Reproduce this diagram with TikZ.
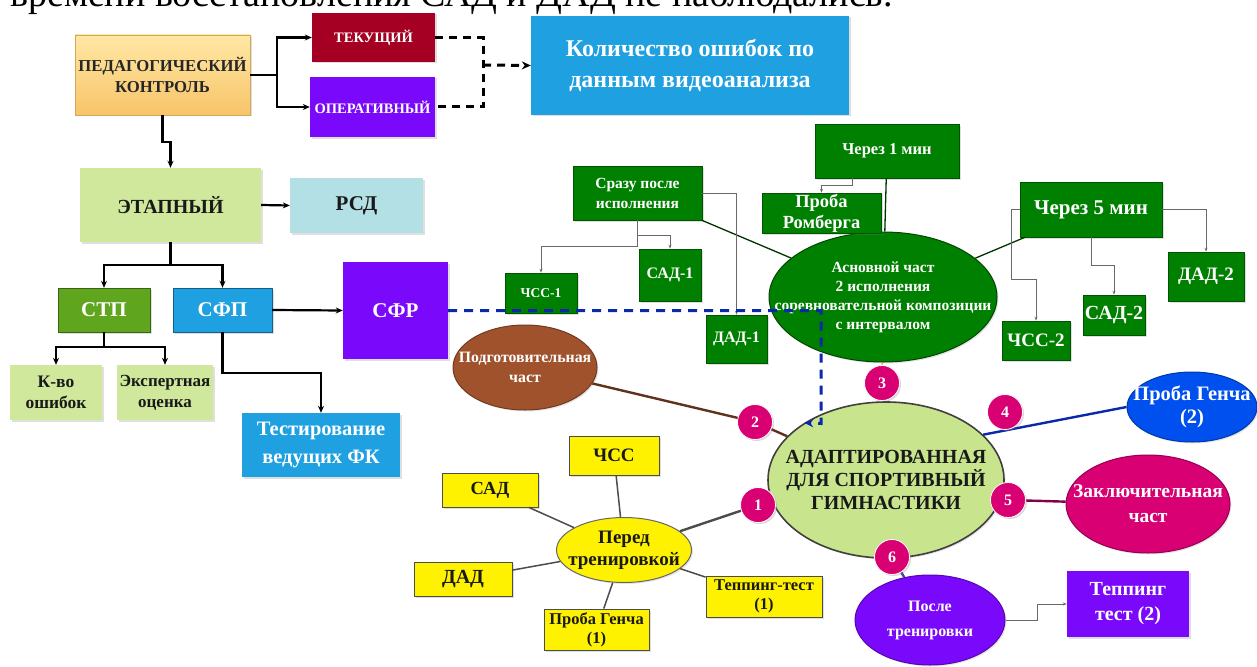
\documentclass[tikz,border=0pt]{standalone}
\usepackage{fontspec}
\setmainfont{Liberation Serif}
\usepackage{tikz}
\usetikzlibrary{arrows.meta,positioning,shapes.geometric,calc,shadows}
\definecolor{ctlyellow}{RGB}{255,232,165}
\definecolor{ctlorange}{RGB}{248,196,105}
\definecolor{curred}{RGB}{165,0,35}
\definecolor{opviolet}{RGB}{122,8,250}
\definecolor{infoblue}{RGB}{30,160,225}
\definecolor{palegreen}{RGB}{208,232,155}
\definecolor{palecyan}{RGB}{178,224,228}
\definecolor{grassgreen}{RGB}{96,165,30}
\definecolor{deepgreen}{RGB}{0,128,0}
\definecolor{rustbrown}{RGB}{160,82,45}
\definecolor{magentared}{RGB}{216,0,115}
\definecolor{royalblue}{RGB}{0,80,239}
\definecolor{limegreen}{RGB}{200,228,140}
\definecolor{linegray}{RGB}{105,105,105}
\definecolor{dashblue}{RGB}{10,40,170}
\newcommand{\fsz}[2]{\fontsize{#1}{#2}\selectfont\bfseries}

\begin{document}
\begin{tikzpicture}[x=1pt, y=-1pt,
  sqbox/.style = {
    rectangle, inner sep=1pt, align=center, text=white,
    drop shadow={opacity=0.25, shadow xshift=1.5pt, shadow yshift=-1.5pt}
  },
  litebox/.style = {sqbox, text=black!90},
  gbox/.style = {sqbox, fill=deepgreen, draw=deepgreen!65!black, line width=0.6pt},
  ybox/.style = {litebox, fill=yellow, draw=black!70, line width=0.8pt},
  oval/.style = {ellipse, inner sep=0pt, line width=1pt,
    drop shadow={opacity=0.2, shadow xshift=1.5pt, shadow yshift=-1.5pt}},
  olbl/.style = {align=center, text=white, inner sep=0pt},
  badge/.style = {
    circle, fill=magentared, draw=white, line width=0.8pt, minimum size=35pt,
    inner sep=0pt, text=white, font=\fsz{16}{18},
    drop shadow={opacity=0.3, shadow xshift=1.5pt, shadow yshift=-1.5pt}
  },
  arr/.style = {-{Stealth[length=7pt,width=6pt]}, line width=2.2pt},
  gconn/.style = {-{Stealth[length=4pt,width=3pt]}, line width=0.7pt, linegray},
  vidline/.style = {line width=3pt, dash pattern=on 8pt off 6pt},
  bluedash/.style = {line width=3pt, dashblue, dash pattern=on 9pt off 7pt},
  spoke/.style = {line width=2.4pt},
  yspoke/.style = {line width=1.5pt, black!70}
]
  \useasboundingbox (0,0) rectangle (1257,666);
  \clip (0,0) rectangle (1257,666);
  \node[anchor=base west, inner sep=0pt, font=\fontsize{38}{40}\selectfont] (caption) at (10,7) {времени восстановления САД и ДАД не наблюдались.};

  % control branch
  \node[sqbox, text=black!85, top color=ctlyellow, bottom color=ctlorange, draw=ctlorange!85!black,
        minimum width=175, minimum height=80, font=\fsz{16.7}{21}] (pk) at (162.5,75) {ПЕДАГОГИЧЕСКИЙ\\КОНТРОЛЬ};
  \node[sqbox, fill=curred, minimum width=123, minimum height=49, font=\fsz{14.5}{16}] (tek) at (373.5,37.5) {ТЕКУЩИЙ};
  \node[sqbox, fill=opviolet, minimum width=125, minimum height=60, font=\fsz{14.5}{16}] (oper) at (372.5,107) {ОПЕРАТИВНЫЙ};
  \node[sqbox, fill=infoblue, minimum width=318, minimum height=99, font=\fsz{24}{31}] (kol) at (690,65.5) {Количество ошибок по\\данным видеоанализа};
  \node[litebox, fill=palegreen, minimum width=181, minimum height=74, font=\fsz{20}{24}] (etap) at (170.5,205) {ЭТАПНЫЙ};
  \node[litebox, fill=palecyan, minimum width=133, minimum height=55, font=\fsz{21}{24}] (rsd) at (356.5,205.5) {РСД};
  \node[sqbox, fill=grassgreen, draw=grassgreen!60!black, minimum width=92, minimum height=44, font=\fsz{21}{24}] (stp) at (104,310) {СТП};
  \node[sqbox, fill=infoblue, draw=infoblue!60!black, minimum width=99, minimum height=44, font=\fsz{21}{24}] (sfp) at (222.5,310) {СФП};
  \node[sqbox, fill=opviolet, minimum width=105, minimum height=97, font=\fsz{21}{24}] (sfr) at (395.5,310.5) {СФР};
  \node[litebox, fill=palegreen, minimum width=92, minimum height=55, font=\fsz{17.5}{21}] (kvo) at (56,392.5) {К-во\\ошибок};
  \node[litebox, fill=palegreen, minimum width=96, minimum height=55, font=\fsz{17}{21}] (eksp) at (165,392.5) {Экспертная\\оценка};
  \node[sqbox, fill=infoblue, minimum width=158, minimum height=64, font=\fsz{20.5}{28}] (test) at (321,445) {Тестирование\\ведущих ФК};

  \draw[arr] (pk.east) -- ++(27,0) |- (tek.west);
  \draw[arr] (pk.east) -- ++(27,0) |- (oper.west);
  \draw[arr] (pk.south) -- ++(0,27) -| (etap.north);
  \draw[arr] (etap.east) -- (rsd.west);
  \draw[arr] (etap.south) -- ++(0,23) -| (stp.north);
  \draw[arr] (etap.south) -- ++(0,23) -| (sfp.north);
  \draw[arr] (sfp.east) -- (sfr.west);
  \draw[arr] (stp.south) -- ++(0,15) -| (kvo.north);
  \draw[arr] (stp.south) -- ++(0,15) -| (eksp.north);
  \draw[arr] (sfp.south) -- ++(0,41) -| (test.north);

  \coordinate (vjoin) at (483,65);
  \draw[vidline] (tek.east) -- (tek.east -| vjoin) -- (oper.east -| vjoin) -- (oper.east);
  \draw[vidline, -{Stealth[length=9pt,width=8pt]}] (vjoin) -- (kol.west);

  % green cluster
  \node[oval, fill=deepgreen, draw=deepgreen!55!black, minimum width=228, minimum height=130,
        label={[olbl, font=\fsz{15.5}{19}]center:{Асновной част\\2 исполнения\\соревновательной композиции\\с интервалом}}] (osn) at (883,297) {};
  \node[gbox, minimum width=129, minimum height=54, font=\fsz{15.5}{20}] (srazu) at (637.5,193) {Сразу после\\исполнения};
  \node[gbox, minimum width=72, minimum height=40, font=\fsz{13.5}{15}] (chss1) at (541,293) {ЧСС-1};
  \node[gbox, minimum width=62, minimum height=52, font=\fsz{16}{18}] (sad1) at (670,275) {САД-1};
  \node[gbox, minimum width=61, minimum height=48, font=\fsz{16}{18}] (dad1) at (736.5,339) {ДАД-1};
  \node[gbox, minimum width=144, minimum height=54, font=\fsz{16.5}{18}] (ch1) at (887,151) {Через 1 мин};
  \node[gbox, minimum width=119, minimum height=40, font=\fsz{18.5}{21}] (romb) at (821.5,213) {Проба\\Ромберга};
  \node[gbox, minimum width=142, minimum height=55, font=\fsz{21}{23}] (ch5) at (1091,209.5) {Через 5 мин};
  \node[gbox, minimum width=68, minimum height=39, font=\fsz{19}{21}] (chss2) at (1036,340.5) {ЧСС-2};
  \node[gbox, minimum width=62, minimum height=40, font=\fsz{20}{22}] (sad2) at (1114,315) {САД-2};
  \node[gbox, minimum width=76, minimum height=49, font=\fsz{19}{21}] (dad2) at (1206,276.5) {ДАД-2};

  \draw[line width=1.3pt, black!60!deepgreen] (srazu) -- (osn);
  \draw[line width=1.3pt, black!60!deepgreen] (ch1) -- (osn);
  \draw[line width=1.3pt, black!60!deepgreen] (ch5) -- (osn);
  \draw[gconn] (srazu.south) -- ++(0,26) -| (chss1.north);
  \draw[gconn] (srazu.south) -- ++(0,15) -| (sad1.north);
  \draw[gconn] (srazu.east) -| (dad1.north);
  \draw[gconn] ([xshift=-35pt]ch1.south) -- ++(0,7) -| (romb.north);
  \draw[gconn] (ch5.west) -- ++(-8,0) -- ++(0,70) -| (chss2.north);
  \draw[gconn] (ch5.south) -- ++(0,28) -| (sad2.north);
  \draw[gconn] (ch5.east) -| (dad2.north);

  % adapted scheme
  \node[oval, fill=rustbrown, draw=rustbrown!70!black, minimum width=144, minimum height=85,
        label={[olbl, font=\fsz{15.8}{20}]center:{Подготовительная\\част}}] (podg) at (525,367.5) {};
  \node[oval, fill=limegreen, draw=black!75, line width=1.6pt, minimum width=236, minimum height=156,
        label={[olbl, text=black!90, font=\fsz{20}{23}]center:{АДАПТИРОВАННАЯ\\ДЛЯ СПОРТИВНЫЙ\\ГИМНАСТИКИ}}] (adapt) at (886,480) {};
  \node[oval, fill=yellow, draw=black!60, minimum width=135, minimum height=65,
        label={[olbl, text=black!90, font=\fsz{19}{22}]center:{Перед\\тренировкой}}] (perd) at (624,550) {};
  \node[ybox, minimum width=90, minimum height=39, font=\fsz{19}{21}] (chss) at (614,455.5) {ЧСС};
  \node[ybox, minimum width=96, minimum height=34, font=\fsz{18.5}{20}] (sad) at (490,490) {САД};
  \node[ybox, minimum width=98, minimum height=34, font=\fsz{20}{22}] (dad) at (463,579) {ДАД};
  \node[ybox, minimum width=105, minimum height=41, font=\fsz{16.5}{19}] (genc1) at (596.5,629.5) {Проба Генча\\(1)};
  \node[ybox, minimum width=116, minimum height=41, font=\fsz{16.5}{19}] (tep1) at (764,596.5) {Теппинг-тест\\(1)};
  \node[oval, fill=royalblue, draw=royalblue!70!black, minimum width=130, minimum height=70,
        label={[olbl, font=\fsz{20.5}{23}]center:{Проба Генча\\(2)}}] (genc2) at (1192,407) {};
  \node[oval, fill=magentared, draw=magentared!70!black, minimum width=164, minimum height=98,
        label={[olbl, font=\fsz{19.5}{25}]center:{Заключительная\\част}}] (zakl) at (1148,504) {};
  \node[oval, fill=opviolet, draw=opviolet!70!black, minimum width=150, minimum height=90,
        label={[olbl, font=\fsz{16}{25}]center:{После\\тренировки}}] (posle) at (930,620) {};
  \node[sqbox, fill=opviolet, minimum width=122, minimum height=66, font=\fsz{20}{25}] (tep2) at (1128,604) {Теппинг\\тест (2)};

  \draw[yspoke] (perd) -- (chss);
  \draw[yspoke] (perd) -- (sad);
  \draw[yspoke] (perd) -- (dad);
  \draw[yspoke] (perd) -- (genc1);
  \draw[yspoke] (perd) -- (tep1);
  \draw[gconn] (posle.east) -- ++(32,0) |- (tep2.west);

  \coordinate (p1) at (758,505);
  \coordinate (p2) at (755,422);
  \coordinate (p3) at (882,383);
  \coordinate (p4) at (1005,412);
  \coordinate (p5) at (1008,500);
  \coordinate (p6) at (892,557);
  \draw[spoke, black!70] (perd) -- (p1) -- (adapt);
  \draw[spoke, rustbrown!60!black] (podg) -- (p2) -- (adapt);
  \draw[line width=1pt, orange] (osn) -- (p3) -- (adapt);
  \draw[spoke, dashblue] (adapt.25) -- (genc2.west);
  \draw[spoke, magentared!60!black] (adapt) -- (p5) -- (zakl);
  \draw[spoke, linegray!70!blue] (adapt) -- (p6) -- (posle);
  \node[badge] (b1) at (p1) {1};
  \node[badge] (b2) at (p2) {2};
  \node[badge] (b3) at (p3) {3};
  \node[badge] (b4) at (p4) {4};
  \node[badge] (b5) at (p5) {5};
  \node[badge] (b6) at (p6) {6};

  \draw[bluedash, -{Stealth[length=9pt,width=8pt]}] (sfr.east) -- ++(373,0) -- ++(0,113) -- (adapt.145);
\end{tikzpicture}
\end{document}
